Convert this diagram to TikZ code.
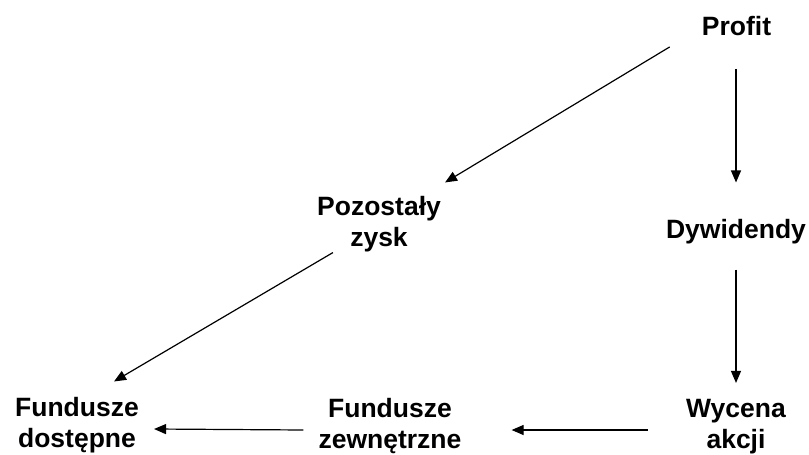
\documentclass[tikz,border=0pt]{standalone}
\usepackage{fontspec}
\setmainfont{Liberation Sans}
\usetikzlibrary{arrows.meta}

\begin{document}
\begin{tikzpicture}[x=1pt, y=1pt,
  every node/.style={font=\fontsize{26.5}{31}\selectfont\bfseries, align=center, inner sep=0pt},
  arr/.style={-{Triangle[length=12pt, width=10pt]}, line width=1.2pt}]
  \useasboundingbox (0,0) rectangle (809,-455);
  \node (profit) at (736.5, -26) {Profit};
  \node (dyw) at (736, -232) {Dywidendy};
  \node (zysk) at (379, -224.5) {Pozostały\\zysk};
  \node (dost) at (77, -425.5) {Fundusze\\dostępne};
  \node (zewn) at (390, -426.5) {Fundusze\\zewnętrzne};
  \node (wyc) at (736, -426.5) {Wycena\\akcji};
  \draw[arr] ([xshift=-32pt, yshift=-11pt]profit.south west) -- ([xshift=4pt, yshift=14pt]zysk.north east);
  \draw[arr] ([yshift=-33pt]profit.south -| dyw.north) -- ([yshift=37pt]dyw.north);
  \draw[arr] ([yshift=-25pt]dyw.south) -- ([yshift=16pt]wyc.north);
  \draw[arr] ([xshift=16pt]zysk.south west) -- ([xshift=-25pt, yshift=16pt]dost.north east);
  \draw[arr] ([xshift=-38pt, yshift=-3.5pt]wyc.west) -- ([xshift=50pt, yshift=-3.5pt]zewn.east);
  \draw[arr] ([xshift=-15pt, yshift=-3.5pt]zewn.west) -- ([xshift=15pt, yshift=-3.5pt]dost.east);
\end{tikzpicture}
\end{document}
